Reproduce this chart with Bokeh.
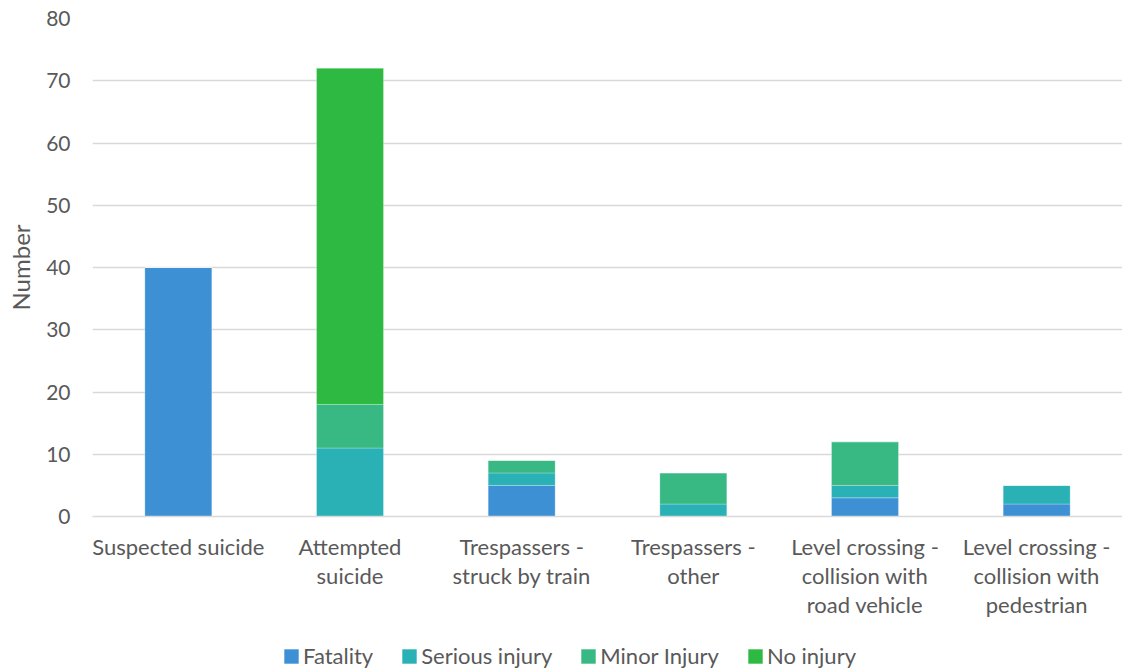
from bokeh.plotting import figure
from bokeh.models import Legend, LegendItem, FixedTicker, Range1d
from bokeh.layouts import column
from bokeh.embed import file_html
from bokeh.resources import INLINE

categories = ["Suspected suicide", "Attempted\nsuicide", "Trespassers -\nstruck by train",
              "Trespassers -\nother", "Level crossing -\ncollision with\nroad vehicle",
              "Level crossing -\ncollision with\npedestrian"]
series = ["Fatality", "Serious injury", "Minor Injury", "No injury"]
fatality = [40, 0, 5, 0, 3, 2]
serious = [0, 11, 2, 2, 2, 3]
minor = [0, 7, 2, 5, 7, 0]
no_injury = [0, 54, 0, 0, 0, 0]
colors = ["#3E90D4", "#2AB1B6", "#38B883", "#2EBA42"]
y_ticks = [0, 10, 20, 30, 40, 50, 60, 70, 80]

data = {"cat": categories, "Fatality": fatality, "Serious injury": serious,
        "Minor Injury": minor, "No injury": no_injury}

FONT = "Lato"
GREY = "#595959"

p = figure(x_range=categories, y_range=(0, 80), width=1122, height=634,
           output_backend="svg", toolbar_location=None,
           min_border_top=18, min_border_left=92, min_border_right=0, min_border_bottom=118)
p.x_range.range_padding = 0

rs = p.vbar_stack(series, x="cat", width=0.39, source=data, color=colors,
                  line_color="white", line_alpha=0.25, line_width=1)

p.outline_line_color = None
p.background_fill_color = "white"
p.border_fill_color = "white"

p.ygrid.grid_line_color = "#D9D9D9"
p.ygrid.grid_line_width = 1.5
p.xgrid.grid_line_color = None

p.yaxis.ticker = FixedTicker(ticks=y_ticks)
p.yaxis.axis_line_color = None
p.yaxis.major_tick_line_color = None
p.yaxis.minor_tick_line_color = None
p.yaxis.major_label_text_font = FONT
p.yaxis.major_label_text_font_size = "21px"
p.yaxis.major_label_text_color = GREY
p.yaxis.major_label_standoff = 16
p.yaxis.axis_label = "Number"
p.yaxis.axis_label_text_font = FONT
p.yaxis.axis_label_text_font_size = "24px"
p.yaxis.axis_label_text_font_style = "normal"
p.yaxis.axis_label_text_color = GREY
p.yaxis.axis_label_standoff = 8

p.xaxis.axis_line_color = "#D9D9D9"
p.xaxis.axis_line_width = 1.5
p.xaxis.major_tick_line_color = None
p.xaxis.minor_tick_line_color = None
p.xaxis.major_label_text_font = FONT
p.xaxis.major_label_text_font_size = "22px"
p.xaxis.major_label_text_color = GREY
p.xaxis.major_label_text_line_height = 1.09
p.xaxis.major_label_standoff = 10

# Legend strip below the chart (hidden copies of the series supply the legend swatches)
lp = figure(width=1122, height=36, x_range=p.x_range, y_range=Range1d(0, 80),
            x_axis_type=None, y_axis_type=None, output_backend="svg",
            toolbar_location=None, min_border=0)
lp.outline_line_color = None
lp.xgrid.grid_line_color = None
lp.ygrid.grid_line_color = None
lrs = lp.vbar_stack(series, x="cat", width=0.39, source=data, color=colors, line_color=None)
for r in lrs:
    r.visible = False
legend = Legend(items=[LegendItem(label=s, renderers=[r]) for s, r in zip(series, lrs)],
                orientation="horizontal", location=(190, 1),
                label_text_font=FONT, label_text_font_size="22px",
                label_text_color=GREY, glyph_width=18, glyph_height=18, spacing=27,
                label_standoff=3, border_line_color=None, background_fill_alpha=0,
                inactive_fill_alpha=0, padding=0, margin=0)
lp.add_layout(legend, "center")

layout = column(p, lp, spacing=0)
open("out.html", "w").write(file_html(layout, INLINE))
